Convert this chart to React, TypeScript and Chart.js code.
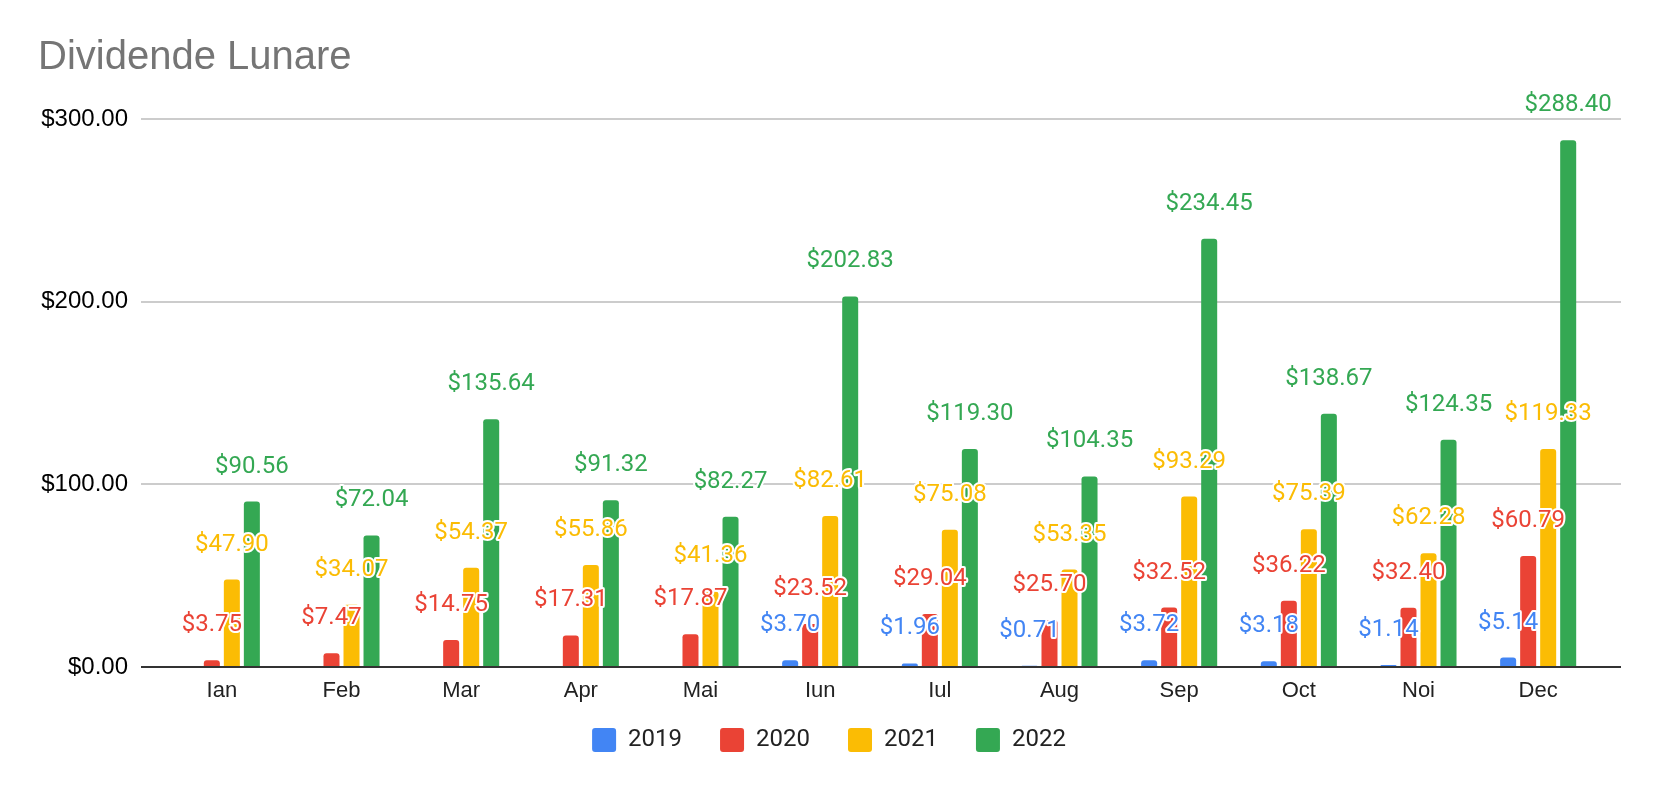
import { useEffect, useRef } from "react";
import { Chart, registerables } from "chart.js";

Chart.register(...registerables);

// Monthly dividends per year (Romanian month abbreviations)
const months = ["Ian", "Feb", "Mar", "Apr", "Mai", "Iun", "Iul", "Aug", "Sep", "Oct", "Noi", "Dec"];
const years = ["2019", "2020", "2021", "2022"];
const values2019 = [null, null, null, null, null, 3.7, 1.96, 0.71, 3.72, 3.18, 1.14, 5.14];
const values2020 = [3.75, 7.47, 14.75, 17.31, 17.87, 23.52, 29.04, 25.7, 32.52, 36.22, 32.4, 60.79];
const values2021 = [47.9, 34.07, 54.37, 55.86, 41.36, 82.61, 75.08, 53.35, 93.29, 75.39, 62.28, 119.33];
const values2022 = [90.56, 72.04, 135.64, 91.32, 82.27, 202.83, 119.3, 104.35, 234.45, 138.67, 124.35, 288.4];
const yTicks = [0, 100, 200, 300];

const colors = ["#4285F4", "#EA4335", "#FBBC04", "#34A853"];

const money = (v: number) => "$" + v.toFixed(2);

// Google Sheets style: gridlines run a bit past the bars, labels sit above each bar
const sheetLook = {
  id: "sheetLook",
  afterLayout(chart: any) {
    if (chart.legend) {
      chart.legend.left += 11;
      chart.legend.right += 11;
    }
  },
  beforeDatasetsDraw(chart: any) {
    const { ctx, chartArea, scales } = chart;
    const y = scales.y;
    ctx.save();
    ctx.lineWidth = 2;
    ctx.strokeStyle = "#cccccc";
    y.ticks.forEach((t: any) => {
      if (t.value === 0) return;
      const py = Math.round(y.getPixelForValue(t.value));
      ctx.beginPath();
      ctx.moveTo(chartArea.left - 21, py);
      ctx.lineTo(chartArea.right + 23, py);
      ctx.stroke();
    });
    ctx.restore();
  },
  afterDatasetsDraw(chart: any) {
    const { ctx, chartArea, scales } = chart;
    const zero = Math.round(scales.y.getPixelForValue(0));
    ctx.save();
    ctx.lineWidth = 2;
    ctx.strokeStyle = "#333333";
    ctx.beginPath();
    ctx.moveTo(chartArea.left - 21, zero);
    ctx.lineTo(chartArea.right + 23, zero);
    ctx.stroke();

    // month labels under the axis (drawn here so they are not clipped)
    ctx.font = "22px 'Liberation Sans', Arial";
    ctx.fillStyle = "#222222";
    ctx.textAlign = "center";
    ctx.textBaseline = "alphabetic";
    months.forEach((m, j) => {
      ctx.fillText(m, scales.x.getPixelForValue(j), zero + 30);
    });

    ctx.font = "24px Roboto";
    ctx.lineJoin = "round";
    chart.data.datasets.forEach((ds: any, i: number) => {
      const meta = chart.getDatasetMeta(i);
      meta.data.forEach((bar: any, j: number) => {
        const v = ds.data[j];
        if (v == null) return;
        const text = money(v);
        const ty = bar.y - 29;
        ctx.lineWidth = 4;
        ctx.strokeStyle = "#ffffff";
        ctx.strokeText(text, bar.x, ty);
        ctx.fillStyle = colors[i];
        ctx.fillText(text, bar.x, ty);
      });
    });
    ctx.restore();
  },
};

function DividendChart() {
  const chartRef = useRef<HTMLCanvasElement>(null);
  const chartInstance = useRef<Chart | null>(null);

  useEffect(() => {
    if (!chartRef.current) return;
    if (chartInstance.current) chartInstance.current.destroy();

    const series = [values2019, values2020, values2021, values2022];

    chartInstance.current = new Chart(chartRef.current, {
      type: "bar",
      data: {
        labels: months,
        datasets: years.map((year, i) => ({
          label: year,
          data: series[i],
          backgroundColor: colors[i],
          borderWidth: 0,
          borderRadius: 3,
          categoryPercentage: 0.669,
          barPercentage: 0.8,
        })),
      },
      options: {
        responsive: true,
        maintainAspectRatio: false,
        animation: false,
        layout: { padding: { left: 38, right: 62, top: 0, bottom: 30 } },
        scales: {
          x: {
            grid: { display: false, drawTicks: false },
            border: { display: false },
            ticks: { display: false },
            afterFit: (scale: any) => {
              scale.height = 23;
            },
          },
          y: {
            min: 0,
            max: 300,
            grid: { display: false, drawTicks: false },
            border: { display: false },
            afterBuildTicks: (scale: any) => {
              scale.ticks = yTicks.map((v) => ({ value: v }));
            },
            afterFit: (scale: any) => {
              scale.width = 124;
            },
            ticks: {
              padding: 34,
              color: "#000000",
              font: { family: "Liberation Sans, Arial", size: 24 },
              callback: (v: any) => money(Number(v)),
            },
          },
        },
        plugins: {
          title: {
            display: true,
            text: "Dividende Lunare",
            align: "start",
            color: "#757575",
            font: { family: "Liberation Sans, Arial", size: 40, weight: "normal" },
            padding: { top: 34, bottom: 37 },
          },
          legend: {
            position: "bottom",
            labels: {
              boxWidth: 24,
              boxHeight: 24,
              padding: 38,
              useBorderRadius: true,
              borderRadius: 3,
              color: "#222222",
              font: { family: "Roboto", size: 24 },
            },
          },
          tooltip: { enabled: false },
        },
      },
      plugins: [sheetLook],
    });

    return () => {
      if (chartInstance.current) {
        chartInstance.current.destroy();
        chartInstance.current = null;
      }
    };
  }, []);

  return <canvas ref={chartRef} />;
}

export default function App() {
  return (
    <div
      style={{
        position: "fixed",
        left: 0,
        top: 0,
        width: 1660,
        height: 792,
        background: "#ffffff",
      }}
    >
      <DividendChart />
    </div>
  );
}
